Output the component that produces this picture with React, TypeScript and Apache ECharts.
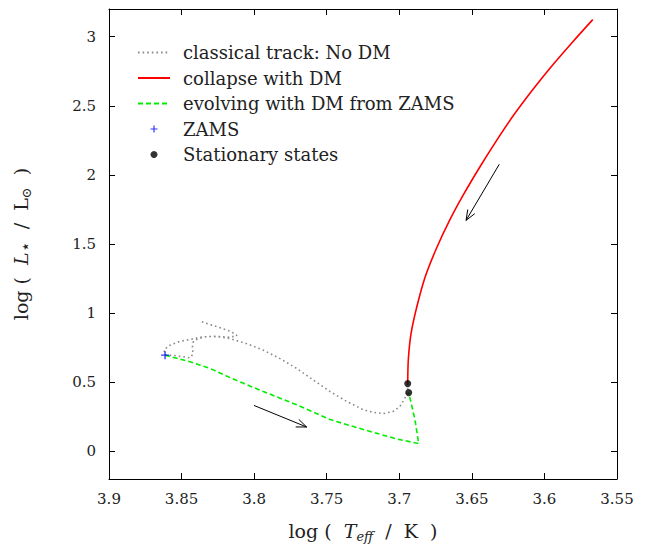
import React, { useEffect, useRef } from 'react';
import * as echarts from 'echarts';

const xTicks = [3.9, 3.85, 3.8, 3.75, 3.7, 3.65, 3.6, 3.55];
const yTicks = [0, 0.5, 1, 1.5, 2, 2.5, 3];

const legendNames = [
  'classical track: No DM',
  'collapse with DM',
  'evolving with DM from ZAMS',
  'ZAMS',
  'Stationary states',
];

const classicalTrack = [
  [3.6942, 0.49], [3.6943, 0.433], [3.6961, 0.385], [3.6995, 0.325], [3.7041, 0.289],
  [3.711, 0.273], [3.7179, 0.282], [3.7248, 0.301], [3.7362, 0.361], [3.7477, 0.433],
  [3.7592, 0.516], [3.7707, 0.6], [3.7822, 0.671], [3.7937, 0.732], [3.8051, 0.779],
  [3.8166, 0.815], [3.8235, 0.827], [3.8304, 0.831], [3.8373, 0.825], [3.8442, 0.809],
  [3.8511, 0.796], [3.858, 0.768], [3.8621, 0.734], [3.8614, 0.696], [3.8557, 0.694],
  [3.8488, 0.684], [3.8442, 0.676], [3.8421, 0.705], [3.8425, 0.755], [3.8418, 0.798],
  [3.8387, 0.815], [3.8325, 0.831], [3.8256, 0.832], [3.8166, 0.825], [3.8118, 0.838],
  [3.8166, 0.87], [3.8235, 0.894], [3.8304, 0.918], [3.8368, 0.94],
];

const collapseDM = [
  [3.5667, 3.123], [3.5801, 2.967], [3.5939, 2.8], [3.6077, 2.621], [3.6214, 2.429],
  [3.6329, 2.25], [3.6444, 2.059], [3.6559, 1.855], [3.6651, 1.676], [3.6742, 1.473],
  [3.6823, 1.258], [3.688, 1.042], [3.6919, 0.851], [3.6938, 0.66], [3.6942, 0.49],
];

const evolvingDM = [
  [3.8614, 0.696], [3.8442, 0.648], [3.8304, 0.6], [3.8155, 0.528], [3.7937, 0.433],
  [3.7707, 0.337], [3.7477, 0.23], [3.7248, 0.158], [3.7018, 0.09], [3.6866, 0.056],
  [3.6892, 0.23], [3.6935, 0.425],
];

const zams = [[3.8614, 0.696]];
const stationary = [[3.6942, 0.49], [3.6935, 0.425]];
const arrows = [
  [3.6311, 2.077, 3.654, 1.671],
  [3.8001, 0.332, 3.7638, 0.176],
];

const FONT = 'DejaVu Serif';
const TXT = '#222';
const PLUS = 'path://M-1,-0.17H1V0.17H-1Z M-0.17,-1H0.17V1H-0.17Z';

export default function App() {
  const ref = useRef<HTMLDivElement>(null);
  useEffect(() => {
    const chart = echarts.init(ref.current!, undefined, { renderer: 'svg' });
    const nameRich = {
      a: { fontFamily: FONT, fontSize: 19, color: TXT, lineHeight: 24 },
      i: { fontFamily: FONT, fontSize: 19, color: TXT, fontStyle: 'italic', lineHeight: 24 },
      s: { fontFamily: FONT, fontSize: 13, color: TXT, lineHeight: 13, verticalAlign: 'bottom' },
      st: { fontFamily: FONT, fontSize: 17, color: TXT, lineHeight: 17, verticalAlign: 'bottom' },
      is: { fontFamily: FONT, fontSize: 13, color: TXT, fontStyle: 'italic', lineHeight: 13, verticalAlign: 'bottom' },
    };
    const frameLine = { show: true, onZero: false, lineStyle: { color: '#000', width: 1 } };
    const hideSym = { itemStyle: { opacity: 0 } };
    const option: any = {
      animation: false,
      grid: { left: 109, right: 37, top: 9, bottom: 65 },
      legend: {
        data: [
          { name: legendNames[0], ...hideSym },
          { name: legendNames[1], ...hideSym },
          { name: legendNames[2], ...hideSym },
          { name: legendNames[3] },
          { name: legendNames[4] },
        ],
        orient: 'vertical',
        left: 137,
        top: 43.5,
        padding: 0,
        itemWidth: 32,
        itemHeight: 7,
        itemGap: 7.5,
        selectedMode: false,
        textStyle: { fontFamily: FONT, fontSize: 18, color: TXT, lineHeight: 18, padding: [0, 0, 0, 8] },
      },
      xAxis: [
        {
          type: 'value', min: 3.55, max: 3.9, inverse: true, position: 'bottom',
          axisLine: frameLine,
          axisTick: { show: true, inside: true, length: 6, customValues: xTicks, lineStyle: { color: '#000' } },
          axisLabel: { customValues: xTicks, margin: 12, fontSize: 15, fontFamily: FONT, color: TXT, formatter: (v: number) => String(v) },
          splitLine: { show: false },
          name: '{a|log (  }{i|T}{is|eff}{a|  /  K  )}',
          nameLocation: 'middle', nameGap: 40,
          nameTextStyle: { fontFamily: FONT, fontSize: 19, color: TXT, rich: nameRich },
        },
        {
          type: 'value', min: 3.55, max: 3.9, inverse: true, position: 'top',
          axisLine: frameLine,
          axisTick: { show: true, inside: true, length: 6, customValues: xTicks, lineStyle: { color: '#000' } },
          axisLabel: { show: false },
          splitLine: { show: false },
        },
      ],
      yAxis: [
        {
          type: 'value', min: -0.2, max: 3.2, position: 'left',
          axisLine: frameLine,
          axisTick: { show: true, inside: true, length: 6, customValues: yTicks, lineStyle: { color: '#000' } },
          axisLabel: { customValues: yTicks, margin: 13, fontSize: 15, fontFamily: FONT, color: TXT, formatter: (v: number) => String(v) },
          splitLine: { show: false },
          name: '{a|log (  }{i|L}{st|⋆}{a|  /  L}{s|⊙}{a|  )}',
          nameLocation: 'middle', nameGap: 76, nameRotate: 90,
          nameTextStyle: { fontFamily: FONT, fontSize: 19, color: TXT, rich: nameRich },
        },
        {
          type: 'value', min: -0.2, max: 3.2, position: 'right',
          axisLine: frameLine,
          axisTick: { show: true, inside: true, length: 6, customValues: yTicks, lineStyle: { color: '#000' } },
          axisLabel: { show: false },
          splitLine: { show: false },
        },
      ],
      series: [
        {
          type: 'line', name: legendNames[0], data: classicalTrack, symbol: 'none',
          lineStyle: { color: '#8a8a8a', width: 1.6, type: [1.6, 3] },
          itemStyle: { color: '#8a8a8a' }, z: 2,
        },
        {
          type: 'line', name: legendNames[2], data: evolvingDM, symbol: 'none',
          lineStyle: { color: '#00ee00', width: 1.6, type: [5, 3] },
          itemStyle: { color: '#00ee00' }, z: 3,
        },
        {
          type: 'line', name: legendNames[1], data: collapseDM, symbol: 'none', smooth: 0.25,
          lineStyle: { color: '#ff0000', width: 1.6 },
          itemStyle: { color: '#ff0000' }, z: 4,
        },
        {
          type: 'scatter', name: legendNames[3], data: zams, symbol: PLUS, symbolSize: 8,
          itemStyle: { color: '#0000ff' }, z: 6,
        },
        {
          type: 'scatter', name: legendNames[4], data: stationary, symbol: 'circle', symbolSize: 7,
          itemStyle: { color: '#000' }, z: 6,
        },
        {
          type: 'custom', name: 'arrows', data: arrows, encode: { x: [0, 2], y: [1, 3] },
          silent: true, z: 5,
          renderItem: (params: any, api: any) => {
            const p1 = api.coord([api.value(0), api.value(1)]);
            const p2 = api.coord([api.value(2), api.value(3)]);
            const ang = Math.atan2(p2[1] - p1[1], p2[0] - p1[0]);
            const L = 11, a = 0.38;
            const h1 = [p2[0] - L * Math.cos(ang - a), p2[1] - L * Math.sin(ang - a)];
            const h2 = [p2[0] - L * Math.cos(ang + a), p2[1] - L * Math.sin(ang + a)];
            return {
              type: 'group',
              children: [
                { type: 'line', shape: { x1: p1[0], y1: p1[1], x2: p2[0], y2: p2[1] }, style: { stroke: '#000', lineWidth: 1 } },
                { type: 'polyline', shape: { points: [h1, p2, h2] }, style: { stroke: '#000', fill: 'none', lineWidth: 1 } },
              ],
            };
          },
        },
      ],
    };
    chart.setOption(option);
    return () => chart.dispose();
  }, []);
  return <div ref={ref} style={{ width: 654, height: 548, position: 'absolute', left: 0, top: 0 }} />;
}
